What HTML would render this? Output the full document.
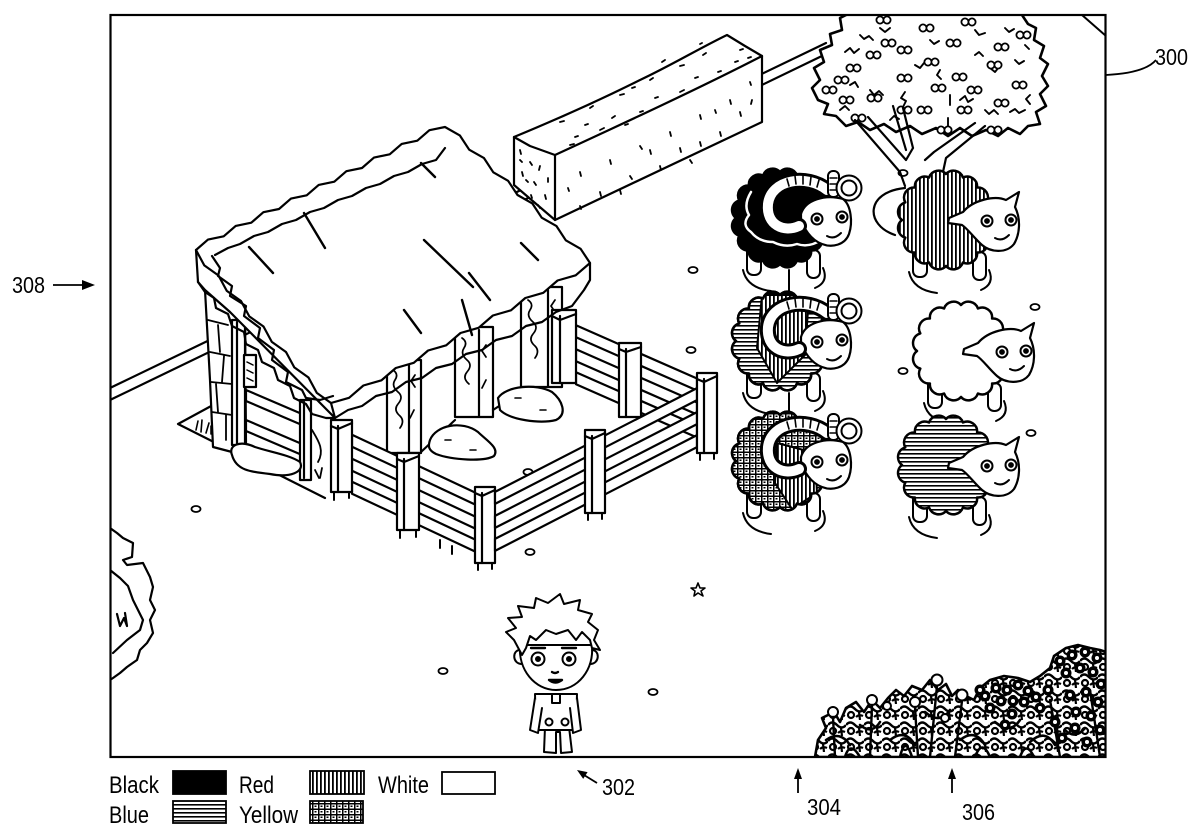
<!DOCTYPE html>
<html><head><meta charset="utf-8"><style>
html,body{margin:0;padding:0;background:#fff;}
svg{display:block;}
text{font-family:"Liberation Sans",sans-serif;fill:#000;}
</style></head><body>
<svg width="1200" height="837" viewBox="0 0 1200 837" xmlns="http://www.w3.org/2000/svg">
<defs>
<pattern id="pR" width="4" height="8" patternUnits="userSpaceOnUse"><rect width="4" height="8" fill="#fff"/><rect width="1.8" height="8" fill="#000"/></pattern>
<pattern id="pB" width="8" height="4" patternUnits="userSpaceOnUse"><rect width="8" height="4" fill="#fff"/><rect width="8" height="1.6" fill="#000"/></pattern>
<pattern id="pY" width="6" height="5.5" patternUnits="userSpaceOnUse"><rect width="6" height="5.5" fill="#fff"/><rect width="6" height="1.5" fill="#000"/><rect width="1.5" height="5.5" fill="#000"/><rect x="2.5" y="2.5" width="2" height="1.5" fill="#000"/></pattern>
<pattern id="pF" width="18" height="16" patternUnits="userSpaceOnUse"><rect width="18" height="16" fill="#fff"/><path d="M0,5 Q4,0 9,5 T18,5" fill="none" stroke="#000" stroke-width="2.4"/><circle cx="5" cy="11" r="3" fill="none" stroke="#000" stroke-width="2.2"/><path d="M13,8 L14,16 M10,13 Q13,10 17,12" fill="none" stroke="#000" stroke-width="2.2"/></pattern>
<clipPath id="frame"><rect x="111" y="15" width="994" height="741"/></clipPath>
<path id="blob" d="M87,48 A10 10 0 0 1 83.7,65.6 A10 10 0 0 1 74.1,80.5 A10 10 0 0 1 59.9,90.5 A10 10 0 0 1 43,94 A10 10 0 0 1 26.1,90.5 A10 10 0 0 1 11.9,80.5 A10 10 0 0 1 2.3,65.6 A10 10 0 0 1 -1,48 A10 10 0 0 1 2.3,30.4 A10 10 0 0 1 11.9,15.5 A10 10 0 0 1 26.1,5.5 A10 10 0 0 1 43,2 A10 10 0 0 1 59.9,5.5 A10 10 0 0 1 74.1,15.5 A10 10 0 0 1 83.7,30.4 A10 10 0 0 1 87,48 Z"/>
<clipPath id="cb"><use href="#blob"/></clipPath>
<g id="legs">
<path d="M6,100 Q10,118 34,121 M86,98 Q92,112 78,118" fill="none" stroke="#000" stroke-width="2"/>
<rect x="10" y="75" width="14" height="30" rx="6" fill="#fff" stroke="#000" stroke-width="2"/>
<rect x="70" y="80" width="13" height="28" rx="6" fill="#fff" stroke="#000" stroke-width="2"/>
</g>
<g id="ramHead">
<path d="M64,44 C68,30 88,24 106,29 C114,35 116,52 112,64 C108,75 95,78 85,74 C74,70 66,58 64,48 Z" fill="#fff" stroke="#000" stroke-width="2.2"/>
<path d="M90,20 C70,4 34,9 31,34 C29,55 47,63 62,56" stroke="#000" stroke-width="16" fill="none" stroke-linecap="round"/>
<path d="M90,20 C70,4 34,9 31,34 C29,55 47,63 62,56" stroke="#fff" stroke-width="10" fill="none" stroke-linecap="round"/>
<path d="M50,9 L52,16 M58,6 L59,14 M66,6 L66,14 M74,7 L73,15 M82,10 L80,17" stroke="#000" stroke-width="1.6" fill="none"/>
<rect x="91" y="1" width="11" height="26" rx="5" fill="#fff" stroke="#000" stroke-width="2"/>
<path d="M93,8 L100,8 M93,14 L100,14 M93,20 L100,20" stroke="#000" stroke-width="1.5"/>
<circle cx="112" cy="18" r="10" fill="none" stroke="#000" stroke-width="7"/>
<circle cx="112" cy="18" r="10" fill="none" stroke="#fff" stroke-width="3"/>
<circle cx="80" cy="49" r="5.5" fill="#fff" stroke="#000" stroke-width="2"/><circle cx="80" cy="49" r="1.8" fill="#000"/>
<circle cx="105" cy="47" r="5.5" fill="#fff" stroke="#000" stroke-width="2"/><circle cx="105" cy="47" r="1.8" fill="#000"/>
<path d="M90,66 Q97,70 104,63" stroke="#000" stroke-width="2" fill="none"/>
</g>
<g id="eweHead">
<path d="M46,46 L60,40 C70,28 92,23 103,28 L116,20 L112,35 C118,47 117,62 111,72 C103,82 87,80 79,73 C71,66 65,57 59,53 L45,51 Z" fill="#fff" stroke="#000" stroke-width="2.2"/>
<circle cx="84" cy="49" r="5.5" fill="#fff" stroke="#000" stroke-width="2"/><circle cx="84" cy="49" r="1.8" fill="#000"/>
<circle cx="108" cy="48" r="5.5" fill="#fff" stroke="#000" stroke-width="2"/><circle cx="108" cy="48" r="1.8" fill="#000"/>
<path d="M92,66 Q99,70 106,63" stroke="#000" stroke-width="2" fill="none"/>
</g>
<g id="ap"><circle cx="0" cy="0" r="3.6"/><circle cx="7" cy="0" r="3.6"/></g>
<g id="fl"><circle r="5.5" fill="#000"/><circle r="2" fill="#fff"/></g>
</defs>

<g clip-path="url(#frame)" stroke="#000" stroke-width="2.2" stroke-linejoin="round" stroke-linecap="round" fill="none">

<!-- road -->
<path d="M110,388 L826,43 M110,400 L826,54"/>

<!-- scattered ovals -->
<g stroke-width="1.8">
<ellipse cx="196" cy="509" rx="4.5" ry="3"/>
<ellipse cx="443" cy="671" rx="4.5" ry="3"/>
<ellipse cx="653" cy="692" rx="4.5" ry="3"/>
<ellipse cx="693" cy="270" rx="4.5" ry="3"/>
<ellipse cx="691" cy="350" rx="4.5" ry="3"/>
<ellipse cx="1035" cy="307" rx="4.5" ry="3"/>
<ellipse cx="903" cy="371" rx="4.5" ry="3"/>
<ellipse cx="1031" cy="433" rx="4.5" ry="3"/>
<ellipse cx="903" cy="173" rx="4.5" ry="3"/>
<ellipse cx="528" cy="472" rx="4.5" ry="3"/>
<ellipse cx="530" cy="552" rx="4.5" ry="3"/>
<path d="M698,583 L700,588 L705,588 L701,591 L703,596 L698,593 L694,596 L695,591 L691,588 L696,588 Z" stroke-width="1.6"/>
</g>

<!-- hay bale -->
<path d="M514,137 C560,118 600,100 640,80 C670,66 700,48 727,35 L745,46 L762,56 L762,122 L555,220 L514,185 Z" fill="#fff"/>
<path d="M514,137 L530,146 L555,155 C620,125 700,88 762,56 M555,155 L555,220"/>
<path d="M520,150 l1,4 M530,162 l2,3 M522,172 l1,4 M540,166 l-1,4 M534,182 l2,3 M545,195 l1,4 M526,180 l2,2 M548,178 l0,4 M538,205 l2,3 M520,160 l2,2 M531,195 l1,3
M560,122 l4,-1 M590,108 l3,-2 M620,95 l4,-1 M650,80 l3,-2 M680,66 l4,-1 M703,55 l3,-2 M740,50 l3,-1 M600,130 l4,-2 M640,112 l3,-1 M680,92 l4,-2 M718,72 l3,-1 M575,137 l3,-1 M662,62 l3,-2 M700,44 l2,-1 M612,118 l3,-2 M735,62 l3,-1 M570,145 l4,-1 M625,125 l3,-1 M585,125 l3,-1 M655,98 l3,-1 M695,78 l3,-1 M632,88 l3,-1 M748,58 l3,-1
M580,172 l1,4 M610,160 l1,4 M640,146 l2,3 M670,132 l1,4 M700,115 l1,4 M730,100 l1,4 M750,82 l1,3 M600,192 l1,4 M630,176 l2,3 M660,166 l1,4 M700,142 l1,4 M740,112 l1,4 M580,206 l1,3 M620,190 l1,4 M690,160 l2,3 M720,132 l1,4 M752,100 l-1,4 M568,188 l1,3 M650,150 l1,4 M715,110 l1,3 M680,148 l1,4" stroke-width="1.8"/>

<!-- tree foliage -->
<path d="M818,100 L812,88 L820,80 L814,68 L824,62 L820,50 L832,45 L830,34 L842,30 L840,18 L852,12 L1020,12 L1028,24 L1036,28 L1034,40 L1044,46 L1040,58 L1048,64 L1042,76 L1048,86 L1040,94 L1046,106 L1036,112 L1040,124 L1028,126 L1020,134 L1008,128 L998,136 L986,130 L972,136 L960,128 L948,136 L936,128 L922,134 L910,126 L896,132 L884,124 L870,130 L858,122 L846,126 L836,116 L824,114 L828,104 Z" fill="#fff" stroke-width="2.6"/>
<path d="M845,52 l5,-4 l4,5 l5,-4 M870,90 l4,5 l5,-4 l4,4 M905,92 l-4,6 l5,3 l-3,6 M960,100 l5,-4 l3,6 l5,-3 M990,68 l5,4 l4,-5 M1010,112 l5,-3 l4,4 l6,-3 M840,110 l5,-4 l4,4 M930,40 l4,4 l5,-3 M880,28 l5,4 l5,-4 M975,30 l4,5 l6,-2 M1015,60 l4,4 l5,-3 M1030,95 l-4,4 l4,5 M950,95 l0,10 M948,118 l0,8 M860,35 l4,4 l5,-3 l4,4 M915,65 l5,3 l4,-5 M985,110 l4,4 l5,-4 l4,4 M1005,28 l4,4 l5,-3 M850,85 l5,-3 l3,5 M890,120 l4,-4 l5,3 M940,70 l-3,5 l4,4 M1025,45 l4,4 M975,55 l4,-3 l4,4" stroke-width="1.9"/>
<g fill="#fff" stroke-width="1.8">
<use href="#ap" x="923" y="28"/><use href="#ap" x="885" y="43"/><use href="#ap" x="870" y="55"/><use href="#ap" x="850" y="68"/><use href="#ap" x="838" y="80"/><use href="#ap" x="843" y="100"/><use href="#ap" x="871" y="98"/><use href="#ap" x="901" y="50"/><use href="#ap" x="901" y="78"/><use href="#ap" x="928" y="62"/><use href="#ap" x="950" y="43"/><use href="#ap" x="956" y="77"/><use href="#ap" x="935" y="88"/><use href="#ap" x="921" y="110"/><use href="#ap" x="901" y="110"/><use href="#ap" x="855" y="118"/><use href="#ap" x="971" y="90"/><use href="#ap" x="961" y="110"/><use href="#ap" x="998" y="47"/><use href="#ap" x="991" y="65"/><use href="#ap" x="1016" y="85"/><use href="#ap" x="998" y="103"/><use href="#ap" x="991" y="130"/><use href="#ap" x="941" y="130"/><use href="#ap" x="880" y="20"/><use href="#ap" x="965" y="22"/><use href="#ap" x="1020" y="35"/><use href="#ap" x="826" y="90"/>
</g>
<!-- trunk -->
<path d="M855,120 L900,172 L905,186 M868,117 L906,160 M893,106 L906,150 M903,108 L913,148 M985,126 L946,158 L940,186 M975,123 L934,152 M906,160 L913,148 M934,152 L925,160"/>
<path d="M905,188 C865,192 865,225 895,235"/>

<!-- left bush -->
<path d="M110,528 L117,533 L123,538 L133,543 L132,557 L123,560 L127,565 L143,563 L150,577 L153,587 L150,600 L155,610 L150,620 L153,633 L147,643 L140,650 L137,660 L127,667 L120,673 L113,678 L110,680" fill="#fff"/>
<path d="M110,570 L120,578 L128,586 L133,600 L143,620 L140,630 L127,640 L113,653 M117,614 L120,626 L124,618 L127,626 L125,613"/>

<!-- house: ground line -->
<path d="M213,405 L178,424 L325,498"/>
<path d="M196,430 l2,-9 M201,432 l1,-12 M206,433 l3,-10 M211,434 l0,-8" stroke-width="1.6"/>
<!-- stone wall -->
<path d="M204,262 L205,290 L210,380 L213,447 L232,452 L246,444 L245,310 L230,312 Z" fill="#fff"/>
<path d="M208,320 L228,325 M210,352 L230,356 M211,382 L232,384 M212,412 L232,415 M218,325 L220,352 M224,356 L222,382 M216,384 L218,412 M226,415 L226,440" stroke-width="1.8"/>
<rect x="232" y="320" width="13" height="125" fill="#fff"/>
<line x1="237" y1="322" x2="237" y2="444"/>
<rect x="244" y="355" width="12" height="32" fill="#fff"/>
<path d="M247,362 l6,3 M247,370 l6,3 M247,378 l6,3" stroke-width="1.5"/>
<!-- left rails -->
<polygon points="246,390 302,414 302,425 246,401" fill="#fff"/>
<polygon points="246,420 302,444 302,455 246,431" fill="#fff"/>
<rect x="300" y="400" width="11" height="80" fill="#fff"/>
<line x1="304" y1="402" x2="304" y2="478"/>
<path d="M232,455 C228,445 240,440 255,447 C270,452 290,455 300,462 C305,472 290,478 270,474 C250,472 236,470 232,455 Z" fill="#fff"/>
<path d="M312,430 C318,440 325,450 318,462 M315,470 l4,8 M322,468 l-2,10" stroke-width="1.8"/>

<!-- shed pillars -->
<g fill="#fff">
<rect x="387" y="360" width="34" height="93"/>
<rect x="455" y="327" width="38" height="90"/>
<rect x="521" y="287" width="41" height="100"/>
</g>
<path d="M409,362 L409,452 M479,330 L479,416 M548,290 L548,386"/>
<path d="M393,370 q6,4 2,10 q-4,6 3,12 q6,5 0,12 q-5,6 2,12 q5,5 0,12 M415,375 l-4,6 l4,6 M414,410 l-4,8 M462,338 q6,4 2,10 q-4,6 3,12 q6,5 0,12 q-5,6 2,12 M486,345 l-4,6 l4,6 M486,380 l-4,8 M528,300 q6,4 2,10 q-4,6 3,12 q6,5 0,12 q-5,6 2,12 q5,5 0,12 M555,300 l-4,6 l4,6 M556,340 l-4,8" stroke-width="1.7"/>
<path d="M421,452 L455,420 M493,410 L521,392"/>
<!-- puddles -->
<path d="M430,440 C436,425 462,420 478,432 C486,440 500,448 494,456 C484,462 452,460 436,454 C428,450 428,446 430,440 Z" fill="#fff"/>
<path d="M498,398 C506,386 536,383 552,392 C562,400 568,414 556,420 C540,424 510,420 500,410 Z" fill="#fff"/>
<path d="M445,440 l6,0 M470,450 l6,0 M515,398 l6,0 M540,410 l6,0" stroke-width="1.6"/>

<!-- back rails -->
<g fill="#fff">
<polygon points="576,325.3 697,378.5 697,390.5 576,337.3"/>
<polygon points="576,349.3 697,402.5 697,414.5 576,361.3"/>
<polygon points="576,372.3 697,425.5 697,437.5 576,384.3"/>
<rect x="552" y="310" width="24" height="73"/>
<rect x="619" y="343" width="22" height="74"/>
</g>
<path d="M560,316 L560,383 M626,349 L626,417 M552,316 L560,320 L576,314 M619,349 L626,352 L641,347"/>

<!-- roof -->
<path d="M196,250 L198,282 L205,290 L230,312 L335,418 L331,403 Z" fill="#fff"/>
<path d="M196,250 L208,239.6 L223.7,236.3 L235.7,225.9 L251.3,222.7 L263.4,212.2 L279,209 L291,198.6 L306.7,195.3 L318.7,184.9 L334.3,181.7 L346.4,171.2 L362,168 L374,157.6 L389.7,154.3 L401.7,143.9 L417.3,140.7 L429.4,130.2 L445,127 L459.8,135.4 L469.2,149.7 L484,158.1 L493.3,172.3 L508.1,180.8 L517.5,195 L532.3,203.4 L541.7,217.7 L556.5,226.1 L565.8,240.3 L580.6,248.8 L590,263 L575.7,275.3 L557.6,280.5 L543.3,292.8 L525.3,298 L511,310.3 L492.9,315.5 L478.6,327.8 L460.5,333 L446.2,345.3 L428.1,350.5 L413.8,362.8 L395.8,368 L381.5,380.3 L363.4,385.5 L349.1,397.8 L331,403 L316.8,392.9 L308.5,377.5 L294.3,367.4 L286,352 L271.8,341.9 L263.5,326.5 L249.3,316.4 L241,301 L226.8,290.9 L218.5,275.5 L204.3,265.4 Z" fill="#fff"/>
<!-- roof bands -->
<path d="M212,256 L220,268 L218,276 L232,286 L230,296 L246,306 L244,316 L260,328 L258,338 L274,350 L272,360 L288,372 L286,382 L302,390 L306,398 L320,400 L333,396"/>
<path d="M198,282 L205,292 L214,298 L216,308 L228,314 L232,326 L244,332 L246,344 L258,350 L262,362 L274,368 L278,380 L290,386 L294,398 L306,404 L312,414 L326,418 L335,418"/>
<path d="M335,418 L348,410 L362,406 L376,396 L392,392 L406,382 L422,378 L436,368 L452,364 L466,354 L482,350 L496,340 L512,336 L526,326 L542,322 L556,312 L572,306 L584,290 L590,280 L590,263"/>
<path d="M215,255 L228,248 L240,244 L254,236 L268,232 L282,224 L296,220 L310,212 L324,208 L338,200 L352,196 L366,188 L380,184 L394,176 L408,172 L422,164 L436,160 L445,148"/>
<!-- roof slashes -->
<path d="M304,213 L325,248 M249,247 L273,273 M424,240 L473,287 M469,273 L490,300 M404,310 L421,333 M521,243 L538,260 M421,163 L435,177 M472,335 L462,300" stroke-width="2.4"/>

<!-- front-left rails -->
<g fill="#fff">
<polygon points="352,434.7 475,492.5 475,504.5 352,446.7"/>
<polygon points="352,458.7 475,516.5 475,528.5 352,470.7"/>
<polygon points="352,481.7 475,539.5 475,551.5 352,493.7"/>
<rect x="331" y="420" width="21" height="72"/>
<rect x="397" y="453" width="22" height="77"/>
<rect x="475" y="487" width="20" height="76"/>
</g>
<path d="M338,426 L338,492 M404,459 L404,530 M482,493 L482,563 M331,426 L338,429 L352,423 M397,459 L404,462 L419,456 M475,493 L482,496 L495,490"/>
<!-- front-right rails -->
<g fill="#fff">
<polygon points="495,491.9 697,388.1 697,400.1 495,503.9"/>
<polygon points="495,515.9 697,412.1 697,424.1 495,527.9"/>
<polygon points="495,538.9 697,435.1 697,447.1 495,550.9"/>
<rect x="585" y="430" width="20" height="83"/>
<rect x="697" y="373" width="20" height="80"/>
</g>
<path d="M592,436 L592,513 M704,379 L704,453 M585,436 L592,439 L605,433 M697,379 L704,382 L717,376"/>
<path d="M334,492 l0,8 M349,492 l0,6 M400,530 l0,8 M416,530 l0,7 M478,563 l0,7 M492,563 l0,6 M588,513 l0,7 M602,513 l0,6 M700,453 l0,7 M714,453 l0,6 M440,540 l0,8 M452,546 l0,8" stroke-width="2"/>

<!-- sheep -->
<g transform="translate(737,170)">
<use href="#legs"/>
<use href="#blob" fill="#000" stroke="#000" stroke-width="2.5"/>
<path d="M14,22 Q6,35 12,45 Q4,55 14,62 Q22,72 36,72 Q48,78 60,74 Q72,78 84,70" stroke="#fff" stroke-width="2.5"/>
<use href="#ramHead"/>
<line x1="52" y1="100" x2="52" y2="123" stroke-width="2"/>
</g>
<g transform="translate(737,293)">
<use href="#legs"/>
<use href="#blob" fill="url(#pB)" stroke="#000" stroke-width="2.5"/>
<polygon clip-path="url(#cb)" points="25,2 72,2 68,62 40,90 20,55" fill="url(#pR)" stroke="#000" stroke-width="2"/>
<use href="#blob" fill="none" stroke="#000" stroke-width="2.5"/>
<use href="#ramHead"/>
<line x1="52" y1="100" x2="52" y2="123" stroke-width="2"/>
</g>
<g transform="translate(737,413)">
<use href="#legs"/>
<use href="#blob" fill="url(#pY)" stroke="#000" stroke-width="2.5"/>
<polygon clip-path="url(#cb)" points="40,30 78,40 80,80 55,96 38,70" fill="url(#pR)" stroke="#000" stroke-width="2"/>
<use href="#blob" fill="none" stroke="#000" stroke-width="2.5"/>
<use href="#ramHead"/>
</g>
<g transform="translate(903,172)">
<use href="#legs"/>
<use href="#blob" fill="url(#pR)" stroke="#000" stroke-width="2.5"/>
<use href="#eweHead"/>
</g>
<g transform="translate(918,303)">
<use href="#legs"/>
<use href="#blob" fill="#fff" stroke="#000" stroke-width="2.5"/>
<use href="#eweHead"/>
</g>
<g transform="translate(903,417)">
<use href="#legs"/>
<use href="#blob" fill="url(#pB)" stroke="#000" stroke-width="2.5"/>
<use href="#eweHead"/>
</g>

<!-- boy -->
<g stroke-width="2">
<path d="M545,727 L544,752 L556,753 L556,732 L560,732 L561,753 L572,752 L569,727 Z" fill="#fff"/>
<path d="M535,694 L577,694 L576,730 L536,730 Z" fill="#fff"/>
<path d="M535,698 L530,730 L538,733 L542,708 M577,698 L581,730 L573,733 L570,708" fill="#fff"/>
<rect x="552" y="694" width="8" height="9" fill="#fff"/>
<circle cx="549" cy="722" r="3.5"/><circle cx="565" cy="722" r="3.5"/>
<path d="M520,645 C518,670 535,690 556,690 C578,690 594,670 592,645 Z" fill="#fff"/>
<path d="M520,650 C512,650 512,664 522,664 M592,650 C600,650 600,664 590,664"/>
<path d="M522,655 L514,640 L506,632 L516,628 L508,618 L522,617 L518,606 L534,608 L536,598 L548,603 L560,594 L564,604 L580,600 L578,610 L592,614 L588,622 L598,630 L594,640 L600,650 L592,648 L590,640 L582,632 L576,640 L568,630 L556,634 L546,630 L536,640 L530,636 L526,648 Z" fill="#fff"/>
<circle cx="538" cy="659" r="6.5" fill="#fff"/><circle cx="538" cy="659" r="2" fill="#000"/>
<circle cx="569" cy="659" r="6.5" fill="#fff"/><circle cx="569" cy="659" r="2" fill="#000"/>
<path d="M531,648 L545,648 M562,648 L576,648 M552,672 Q555,674 558,672 M549,680 Q555,685 562,680 Z" stroke-width="2.4"/>
</g>

<!-- bushes bottom right -->
<path d="M815,757 L818,740 L826,728 L822,718 L834,712 L840,722 L846,708 L856,702 L864,712 L872,700 L880,708 L888,698 L896,690 L904,696 L912,686 L922,690 L930,680 L938,690 L946,684 L952,696 L958,690 L966,696 L974,700 L980,688 L990,680 L1004,676 L1018,678 L1030,682 L1040,676 L1050,668 L1054,656 L1066,648 L1078,645 L1090,648 L1100,650 L1106,652 L1106,757 Z" fill="url(#pF)" stroke-width="2.6"/>
<path d="M826,740 Q840,730 850,745 M860,725 Q872,735 880,722 M890,740 Q905,728 915,745 M925,712 Q940,725 950,710 M960,740 Q975,728 985,745 M995,722 Q1010,735 1020,720 M1030,742 Q1045,728 1055,745 M1065,730 Q1075,740 1085,728 M845,757 Q850,740 860,757 M900,757 Q905,735 912,757 M975,757 Q982,738 990,757 M1020,757 Q1026,740 1034,757" stroke-width="2.6"/>
<g fill="#fff" stroke-width="2">
<circle cx="833" cy="712" r="5"/><circle cx="872" cy="700" r="5"/><circle cx="915" cy="702" r="5"/><circle cx="937" cy="680" r="5.5"/><circle cx="962" cy="695" r="5.5"/><circle cx="887" cy="706" r="4"/><circle cx="945" cy="718" r="4"/>
</g>
<path d="M833,717 L835,757 M872,705 L870,757 M937,686 L930,757 M962,701 L955,757 M915,707 L918,757 M1050,700 L1060,757 M1090,690 L1100,757" stroke-width="2.4"/>
<g stroke="none">
<use href="#fl" x="985" y="696"/><use href="#fl" x="996" y="688"/><use href="#fl" x="1007" y="690"/><use href="#fl" x="1018" y="685"/><use href="#fl" x="1028" y="691"/><use href="#fl" x="1001" y="701"/><use href="#fl" x="1013" y="701"/><use href="#fl" x="1024" y="702"/><use href="#fl" x="990" y="708"/><use href="#fl" x="1036" y="697"/><use href="#fl" x="1012" y="714"/><use href="#fl" x="980" y="690"/>
<use href="#fl" x="1060" y="661"/><use href="#fl" x="1072" y="655"/><use href="#fl" x="1085" y="652"/><use href="#fl" x="1097" y="658"/><use href="#fl" x="1066" y="673"/><use href="#fl" x="1080" y="668"/><use href="#fl" x="1093" y="672"/><use href="#fl" x="1101" y="684"/><use href="#fl" x="1070" y="695"/><use href="#fl" x="1086" y="692"/><use href="#fl" x="1098" y="702"/><use href="#fl" x="1076" y="712"/><use href="#fl" x="1091" y="716"/><use href="#fl" x="1100" y="730"/><use href="#fl" x="1087" y="742"/><use href="#fl" x="1055" y="722"/><use href="#fl" x="1062" y="738"/><use href="#fl" x="1048" y="690"/>
<use href="#fl" x="1040" y="708"/><use href="#fl" x="1075" y="728"/><use href="#fl" x="1005" y="725"/>
</g>
</g>

<!-- frame -->
<rect x="110.5" y="15" width="995" height="742" fill="none" stroke="#000" stroke-width="2.2"/>
<path d="M1082,15 L1106,36" stroke="#000" stroke-width="2" fill="none"/>

<!-- labels / arrows -->
<g stroke="#000" stroke-width="1.8" fill="none">
<path d="M1106,75 Q1145,73 1156,60"/>
<path d="M53,285 L85,285"/>
<path d="M597,783 L584,775"/>
<path d="M798,793 L798,777"/>
<path d="M952,793 L952,777"/>
</g>
<g fill="#000">
<polygon points="95,285 82,280 82,290"/>
<polygon points="577,770 587.6,772.1 583.2,778.9"/>
<polygon points="798,768 794,779 802,779"/>
<polygon points="952,768 948,779 956,779"/>
</g>
<g font-size="23">
<text x="1155" y="65" textLength="33" lengthAdjust="spacingAndGlyphs">300</text>
<text x="12" y="293" textLength="33" lengthAdjust="spacingAndGlyphs">308</text>
<text x="602" y="795" textLength="33" lengthAdjust="spacingAndGlyphs">302</text>
<text x="807" y="815" textLength="34" lengthAdjust="spacingAndGlyphs">304</text>
<text x="962" y="820" textLength="33" lengthAdjust="spacingAndGlyphs">306</text>
</g>
<!-- legend -->
<g font-size="24">
<text x="109" y="793" textLength="50" lengthAdjust="spacingAndGlyphs">Black</text>
<text x="239" y="793" textLength="35" lengthAdjust="spacingAndGlyphs">Red</text>
<text x="378" y="793" textLength="51" lengthAdjust="spacingAndGlyphs">White</text>
<text x="109" y="823" textLength="40" lengthAdjust="spacingAndGlyphs">Blue</text>
<text x="239" y="823" textLength="59" lengthAdjust="spacingAndGlyphs">Yellow</text>
</g>
<g stroke="#000" stroke-width="1.8">
<rect x="173" y="771" width="53" height="23" fill="#000"/>
<rect x="310" y="771" width="54" height="23" fill="url(#pR)"/>
<rect x="442" y="772" width="53" height="22" fill="#fff"/>
<rect x="173" y="801" width="53" height="22" fill="url(#pB)"/>
<rect x="310" y="801" width="53" height="22" fill="url(#pY)"/>
</g>
</svg>
</body></html>
